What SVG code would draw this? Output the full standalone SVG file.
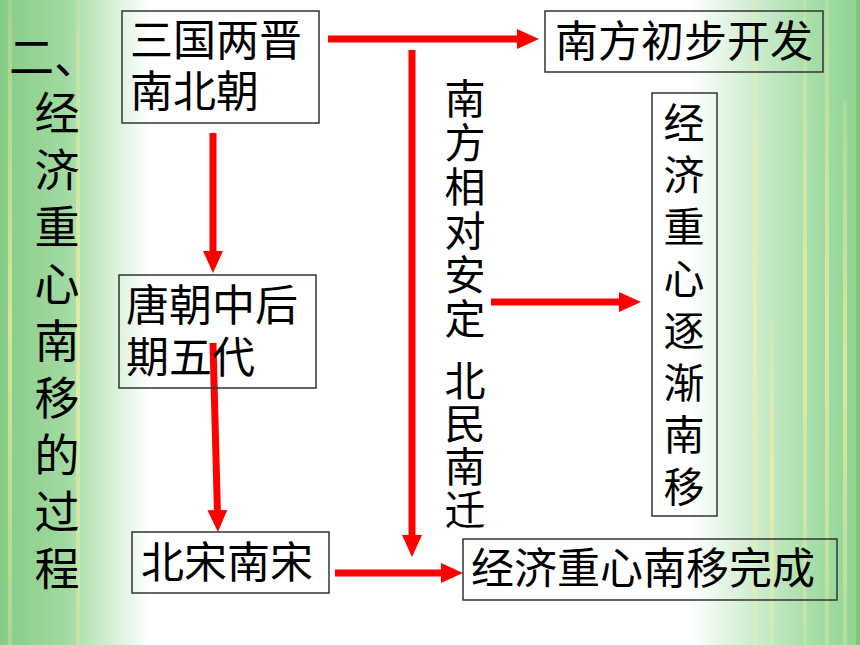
<svg xmlns="http://www.w3.org/2000/svg" width="860" height="645" viewBox="0 0 860 645">
<defs>
<linearGradient id="gl" x1="0" y1="0" x2="1" y2="0">
<stop offset="0" stop-color="#86cc86"/>
<stop offset="0.45" stop-color="#a2daa2"/>
<stop offset="0.75" stop-color="#d6f0d6"/>
<stop offset="1" stop-color="#ffffff"/>
</linearGradient>
<linearGradient id="gr" x1="0" y1="0" x2="1" y2="0">
<stop offset="0" stop-color="#ffffff"/>
<stop offset="0.3" stop-color="#d8f0d8"/>
<stop offset="0.7" stop-color="#a8deaa"/>
<stop offset="1" stop-color="#8fd492"/>
</linearGradient>
<linearGradient id="streak" x1="0" y1="0" x2="0" y2="1">
<stop offset="0" stop-color="#f4f0a0" stop-opacity="0.2"/>
<stop offset="0.5" stop-color="#f4f0a0" stop-opacity="0.7"/>
<stop offset="1" stop-color="#f4f0a0" stop-opacity="0.3"/>
</linearGradient>
<marker id="ah" markerUnits="userSpaceOnUse" markerWidth="22" markerHeight="20" refX="12" refY="10" orient="auto">
<path d="M0,0 L22,10 L0,20 Z" fill="#ff0000"/>
</marker>
</defs>
<style>
.box{fill:none;stroke:#333;stroke-width:1.5}
.t{font-family:"Noto Sans CJK SC","Noto Sans CJK JP",sans-serif;font-size:43px;fill:#000}
.v{font-family:"Noto Sans CJK SC","Noto Sans CJK JP",sans-serif;font-size:41px;fill:#000;writing-mode:vertical-rl}
.ttl{font-family:"Noto Sans CJK SC","Noto Sans CJK JP",sans-serif;font-size:45px;fill:#000;writing-mode:vertical-rl;letter-spacing:12px}
.c{stroke:#ff0000;stroke-width:7;fill:none;marker-end:url(#ah)}
</style>
<g id="background">
<rect x="0" y="0" width="860" height="645" fill="#ffffff"/>
<rect x="0" y="0" width="150" height="645" fill="url(#gl)"/>
<rect x="690" y="0" width="170" height="645" fill="url(#gr)"/>
<rect x="8" y="0" width="4" height="645" fill="url(#streak)"/>
<rect x="76" y="0" width="4" height="645" fill="url(#streak)"/>
<rect x="753" y="0" width="4" height="645" fill="url(#streak)"/>
<rect x="770" y="320" width="4" height="325" fill="url(#streak)"/>
<rect x="803" y="0" width="4" height="645" fill="url(#streak)"/>
<rect x="825" y="0" width="4" height="645" fill="url(#streak)"/>
<rect x="843" y="100" width="4" height="545" fill="url(#streak)"/>
<rect x="856" y="0" width="4" height="645" fill="#7cc67e"/>
</g>
<g id="title">
<text class="t" x="9" y="74" style="font-size:45px">二、</text>
<text class="ttl" x="57" y="90.5">经济重心南移的过程</text>
</g>
<g id="connectors">
<line class="c" x1="328" y1="39" x2="529" y2="39"/>
<line class="c" x1="412" y1="50" x2="412" y2="547"/>
<line class="c" x1="213" y1="133" x2="213" y2="263"/>
<line class="c" x1="213" y1="343" x2="217.7" y2="522"/>
<line class="c" x1="335" y1="573" x2="453" y2="573"/>
<line class="c" x1="491" y1="302" x2="631" y2="302"/>
</g>
<g id="node-sanguo">
<rect class="box" x="122" y="11" width="197" height="112"/>
<text class="t" x="130" y="56">三国两晋<tspan x="130" dy="51">南北朝</tspan></text>
</g>
<g id="node-tang">
<rect class="box" x="119" y="275" width="197" height="113"/>
<text class="t" x="126" y="321">唐朝中后<tspan x="126" dy="52">期五代</tspan></text>
</g>
<g id="node-song">
<rect class="box" x="132" y="532" width="197" height="61"/>
<text class="t" x="141" y="578">北宋南宋</text>
</g>
<g id="node-nanfang">
<rect class="box" x="545" y="11" width="278" height="61"/>
<text class="t" x="555" y="57">南方初步开发</text>
</g>
<g id="node-zhujian">
<rect class="box" x="652" y="93" width="65" height="423"/>
<text class="v" x="684" y="101.5" style="letter-spacing:11px">经济重心逐渐南移</text>
</g>
<g id="node-wancheng">
<rect class="box" x="463" y="539" width="374" height="61"/>
<text class="t" x="471" y="584">经济重心南移完成</text>
</g>
<g id="label-reason">
<text class="v" x="465" y="77.5" style="letter-spacing:3px">南方相对安定</text>
<text class="v" x="465" y="359.5" style="letter-spacing:2.3px">北民南迁</text>
</g>
</svg>
